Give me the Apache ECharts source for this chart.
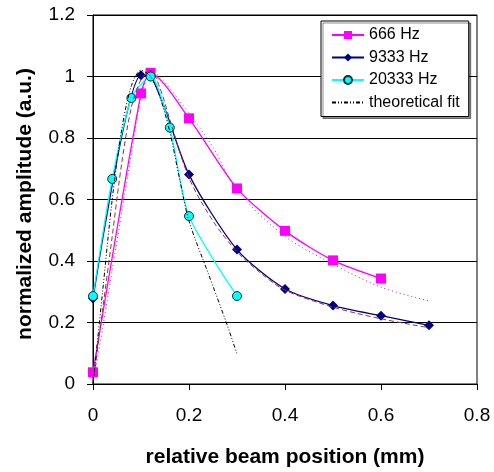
<!DOCTYPE html>
<html><head><meta charset="utf-8">
<script src="https://cdn.jsdelivr.net/npm/echarts@6/dist/echarts.min.js"></script>
<style>html,body{margin:0;padding:0;background:#fff}#c{width:494px;height:472px}</style>
</head><body><div id="c"></div>
<script>
// measured data
var x666 = [0, 0.1, 0.12, 0.2, 0.3, 0.4, 0.5, 0.6];
var y666 = [0.038, 0.945, 1.012, 0.864, 0.636, 0.498, 0.402, 0.343];
var x9333 = [0, 0.1, 0.12, 0.2, 0.3, 0.4, 0.5, 0.6, 0.7];
var y9333 = [0.278, 1.004, 1.0, 0.681, 0.437, 0.309, 0.255, 0.222, 0.191];
var x20333 = [0, 0.04, 0.08, 0.12, 0.16, 0.2, 0.3];
var y20333 = [0.286, 0.667, 0.93, 1.0, 0.834, 0.546, 0.286];
// theoretical fits
var xFit666 = [0, 0.02, 0.04, 0.06, 0.08, 0.1, 0.12, 0.15, 0.2, 0.25, 0.3, 0.4, 0.5, 0.6, 0.7];
var yFit666 = [0, 0.18, 0.37, 0.56, 0.75, 0.93, 1.02, 0.98, 0.88, 0.77, 0.63, 0.48, 0.39, 0.315, 0.27];
var xFit9333 = [0, 0.02, 0.04, 0.06, 0.08, 0.1, 0.12, 0.14, 0.16, 0.2, 0.25, 0.3, 0.35, 0.4, 0.5, 0.6, 0.7];
var yFit9333 = [0, 0.24, 0.48, 0.72, 0.9, 0.99, 1.02, 0.96, 0.86, 0.67, 0.53, 0.43, 0.36, 0.305, 0.25, 0.212, 0.183];
var xFit20333 = [0, 0.02, 0.04, 0.06, 0.08, 0.1, 0.12, 0.14, 0.16, 0.18, 0.2, 0.24, 0.28, 0.3];
var yFit20333 = [0, 0.3, 0.6, 0.83, 0.97, 1.02, 1.0, 0.93, 0.82, 0.67, 0.53, 0.36, 0.19, 0.097];
var seriesNames = ['666 Hz', '9333 Hz', '20333 Hz', 'theoretical fit'];
var xTicks = [0, 0.2, 0.4, 0.6, 0.8];
var yTicks = [0, 0.2, 0.4, 0.6, 0.8, 1, 1.2];

function pairs(xs, ys) { return xs.map(function (x, i) { return [x, ys[i]]; }); }
var FONT = 'Liberation Sans, Arial, sans-serif';
var chart = echarts.init(document.getElementById('c'), null, {renderer: 'canvas'});
chart.setOption({
  animation: false,
  backgroundColor: '#fff',
  textStyle: {fontFamily: FONT},
  grid: {left: 93, right: 17, top: 15, bottom: 88, outerBoundsMode: 'none', containLabel: false,
    show: true, borderColor: '#000', borderWidth: 1, backgroundColor: 'transparent'},
  legend: {
    data: seriesNames, orient: 'vertical', left: 321, top: 21,
    padding: [5, 9, 5, 10], itemGap: 4.5, itemWidth: 32, itemHeight: 10,
    backgroundColor: '#fff', borderColor: '#000', borderWidth: 1,
    shadowColor: 'rgba(0,0,0,0.45)', shadowOffsetX: 2, shadowOffsetY: 2, shadowBlur: 0,
    textStyle: {fontFamily: FONT, fontSize: 16, color: '#000', lineHeight: 18, padding: [0,0,0,0]}
  },
  xAxis: {
    type: 'value', min: 0, max: 0.8, interval: 0.2,
    name: 'relative beam position (mm)', nameLocation: 'middle', nameGap: 63,
    nameTextStyle: {fontFamily: FONT, fontSize: 21, fontWeight: 'bold', color: '#000'},
    axisLine: {show: true, lineStyle: {color: '#000', width: 1}},
    axisTick: {show: true, length: 6, lineStyle: {color: '#000'}},
    axisLabel: {fontFamily: FONT, fontSize: 19, color: '#000', margin: 22,
      formatter: function (v) { var r = Math.round(v*10)/10; return xTicks.indexOf(r) >= 0 ? String(r) : ''; }},
    splitLine: {show: false}
  },
  yAxis: {
    type: 'value', min: 0, max: 1.2, interval: 0.2,
    name: 'normalized amplitude (a.u.)', nameLocation: 'middle', nameGap: 57,
    nameTextStyle: {fontFamily: FONT, fontSize: 21, fontWeight: 'bold', color: '#000', padding: [0, 9, 0, 0]},
    axisLine: {show: true, lineStyle: {color: '#000', width: 1}},
    axisTick: {show: true, length: 6, lineStyle: {color: '#000'}},
    axisLabel: {fontFamily: FONT, fontSize: 19, color: '#000', margin: 18,
      formatter: function (v) { var r = Math.round(v*10)/10; return yTicks.indexOf(r) >= 0 ? String(r) : ''; }},
    splitLine: {show: true, lineStyle: {color: '#000', width: 1}}
  },
  series: [
    {name: '666 Hz', type: 'line', data: pairs(x666, y666), smooth: 0.25,
      symbol: 'rect', symbolSize: 10, z: 3,
      lineStyle: {color: '#FF00FF', width: 1.3}, itemStyle: {color: '#FF00FF'}},
    {name: '9333 Hz', type: 'line', data: pairs(x9333, y9333), smooth: 0.25,
      symbol: 'diamond', symbolSize: 10, z: 4,
      lineStyle: {color: '#000080', width: 1.3}, itemStyle: {color: '#000080'}},
    {name: '20333 Hz', type: 'line', data: pairs(x20333, y20333), smooth: 0.25,
      symbol: 'circle', symbolSize: 9, z: 5,
      lineStyle: {color: '#00FFFF', width: 1.3}, itemStyle: {color: '#00FFFF', borderColor: '#003333', borderWidth: 1}},
    {name: 'fit 666', type: 'line', data: pairs(xFit666, yFit666), smooth: 0.3, showSymbol: false, symbol: 'none', z: 6,
      lineStyle: {color: '#993399', width: 1, type: [1, 3]}},
    {name: 'fit 9333', type: 'line', data: pairs(xFit9333, yFit9333), smooth: 0.3, showSymbol: false, symbol: 'none', z: 6,
      lineStyle: {color: '#993333', width: 1, type: [5, 3]}},
    {name: 'theoretical fit', type: 'line', data: pairs(xFit20333, yFit20333), smooth: 0.3, showSymbol: false, symbol: 'none', z: 7,
      lineStyle: {color: '#000', width: 1, type: [4, 2, 1, 2, 1, 2]}, itemStyle: {color: 'rgba(0,0,0,0)', borderWidth: 0}}
  ]
});
</script></body></html>
